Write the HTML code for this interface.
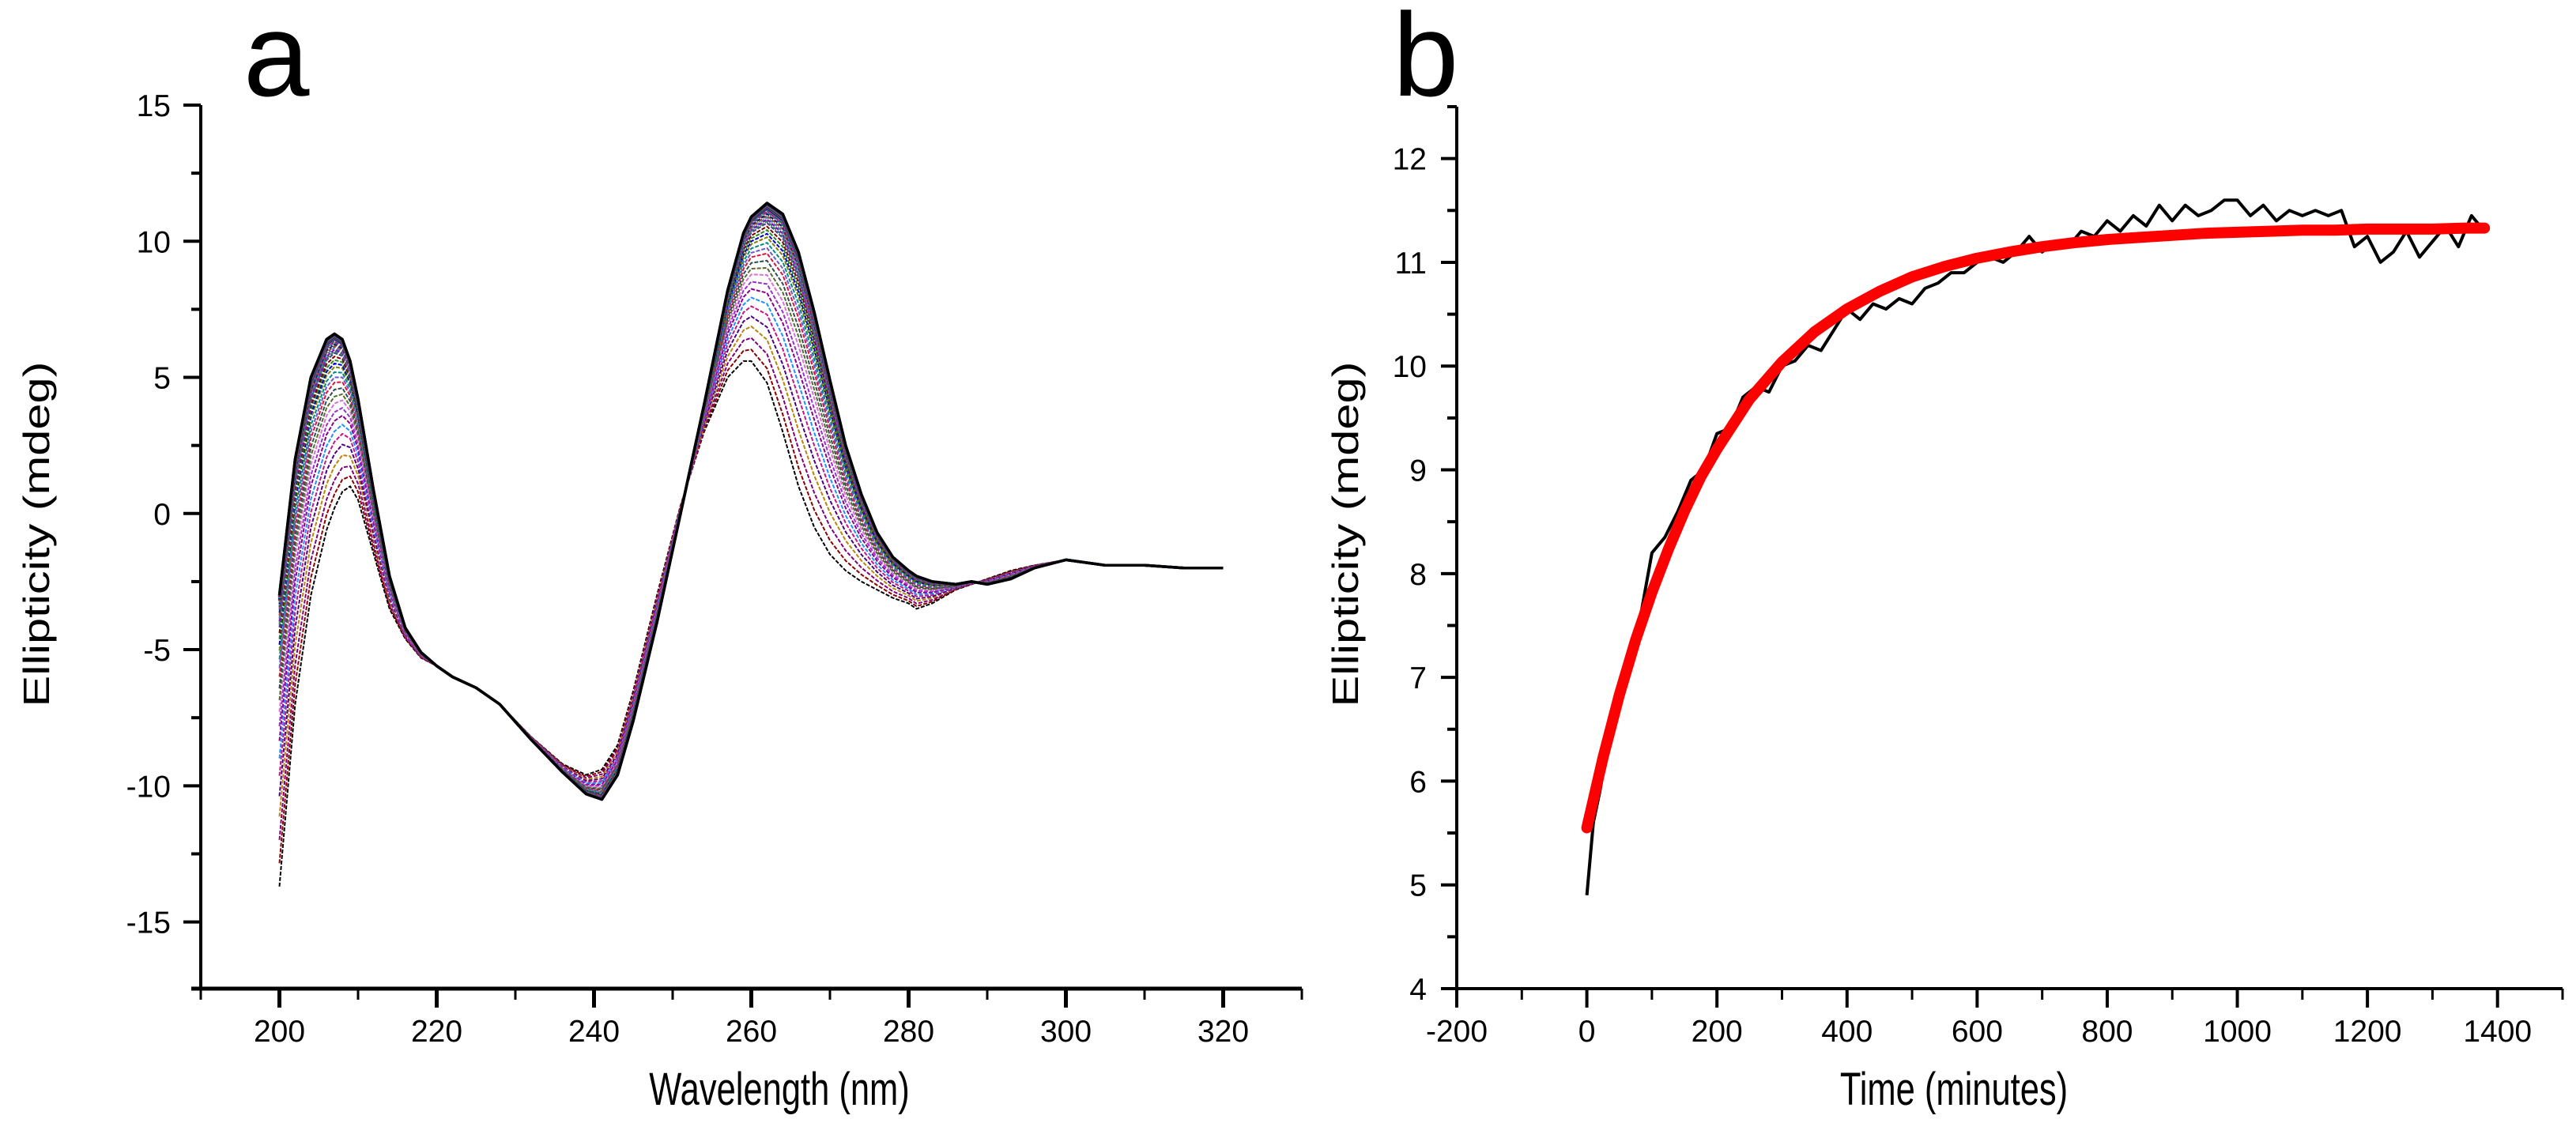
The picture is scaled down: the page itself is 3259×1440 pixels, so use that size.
<!DOCTYPE html>
<html><head><meta charset="utf-8">
<style>
html,body{margin:0;padding:0;background:#fff;}
svg{display:block;font-family:"Liberation Sans",sans-serif;}
</style></head>
<body>
<svg id="fig" width="3259" height="1440" viewBox="0 0 3259 1440" xmlns="http://www.w3.org/2000/svg">
<rect width="3259" height="1440" fill="#fff"/>
<g id="pa"></g>
<g id="pb"></g>
</svg>
<script>
// ---------- Panel a data ----------
const wavelengths = [200,202,204,206,207,208,209,210,212,214,216,218,220,222,225,228,232,236,239,241,243,245,248,251,254,257,259,260,262,264,266,268,270,272,274,276,278,280,281,283,286,288,290,293,296,300,305,310,315,320];
const spectrumFinal = [-3,2,5,6.4,6.6,6.4,5.6,4.2,0.8,-2.3,-4.2,-5.1,-5.6,-6,-6.4,-7,-8.3,-9.5,-10.3,-10.5,-9.6,-7.6,-4,0,4,8.2,10.3,10.9,11.4,11,9.6,7.4,4.9,2.5,0.7,-0.7,-1.6,-2.1,-2.3,-2.5,-2.6,-2.5,-2.6,-2.4,-2,-1.7,-1.9,-1.9,-2,-2];
const spectrumInitial = [-13.7,-7,-3,-0.6,0.2,0.8,1,0.5,-1.5,-3.5,-4.6,-5.3,-5.6,-6,-6.4,-7,-8.2,-9.2,-9.6,-9.4,-8.5,-6.5,-3,0.3,3,5,5.6,5.6,4.8,3,1,-0.5,-1.5,-2.1,-2.5,-2.8,-3.1,-3.3,-3.5,-3.3,-2.8,-2.6,-2.4,-2.1,-1.9,-1.7,-1.9,-1.9,-2,-2];
const scanProgress = [0,0.08,0.16,0.24,0.31,0.38,0.44,0.5,0.55,0.6,0.64,0.68,0.72,0.75,0.78,0.81,0.83,0.85,0.87,0.89,0.9,0.91,0.92,0.93,0.94,0.95,0.955,0.96,0.965,0.97,0.975,0.98,0.985,0.99,0.993,0.996,1.0,1.0];
const scanColors = ["#000000","#8b0000","#800080","#b8860b","#4b0082","#c71585","#1e90ff","#8b008b","#9932cc","#da70d6","#556b2f","#2f4f4f","#dc143c","#6a5acd","#008b8b","#808000","#0000cd","#228b22","#800000","#483d8b","#2e8b57","#9400d3","#4682b4","#a0522d","#191970","#008080","#ff1493","#006400","#7b68ee","#000080","#3cb371","#8b4513","#1c1c8c","#20b2aa","#b22222","#2f2f6f","#336699","#000000"];
const aXTicks = [200,220,240,260,280,300,320];
const aYTicks = [15,10,5,0,-5,-10,-15];

// ---------- Panel b data ----------
const times = [0,10,20,40,60,80,100,120,140,160,180,200,220,240,260,280,300,320,340,360,380,400,420,440,460,480,500,520,540,560,580,600,620,640,660,680,700,720,740,760,780,800,820,840,860,880,900,920,940,960,980,1000,1020,1040,1060,1080,1100,1120,1140,1160,1180,1200,1220,1240,1260,1280,1300,1320,1340,1360,1380];
const ellipticity = [4.9,5.6,5.9,6.6,7.1,7.5,8.2,8.35,8.6,8.9,9.0,9.35,9.4,9.7,9.8,9.75,10.0,10.05,10.2,10.15,10.35,10.55,10.45,10.6,10.55,10.65,10.6,10.75,10.8,10.9,10.9,11.0,11.05,11.0,11.1,11.25,11.1,11.2,11.15,11.3,11.25,11.4,11.3,11.45,11.35,11.55,11.4,11.55,11.45,11.5,11.6,11.6,11.45,11.55,11.4,11.5,11.45,11.5,11.45,11.5,11.15,11.25,11.0,11.1,11.3,11.05,11.2,11.35,11.15,11.45,11.3];
const fitTimes = [0,25,50,75,100,125,150,175,200,250,300,350,400,450,500,550,600,650,700,750,800,850,900,950,1000,1050,1100,1150,1200,1250,1300,1350,1380];
const fitValues = [5.55,6.23,6.83,7.36,7.82,8.23,8.6,8.93,9.2,9.68,10.04,10.33,10.55,10.72,10.86,10.96,11.04,11.1,11.15,11.19,11.22,11.24,11.26,11.28,11.29,11.3,11.31,11.31,11.32,11.32,11.32,11.33,11.33];
const bXTicks = [-200,0,200,400,600,800,1000,1200,1400];
const bYTicks = [4,5,6,7,8,9,10,11,12];

const NS = "http://www.w3.org/2000/svg";
function mk(parent, tag, attrs, text){
  const e = document.createElementNS(NS, tag);
  for (const k in attrs) e.setAttribute(k, attrs[k]);
  if (text !== undefined) e.textContent = text;
  parent.appendChild(e);
  return e;
}

// ---------- Panel a ----------
(function(){
  const g = document.getElementById('pa');
  const L=254, R=1647, T=133, B=1251;
  const xmin=190, xmax=330, ymin=-17.45, ymax=15;
  const sx = v => L + (v-xmin)/(xmax-xmin)*(R-L);
  const sy = v => B - (v-ymin)/(ymax-ymin)*(B-T);

  const lbl = mk(g,'text',{x:308,y:121,'font-size':150});
  lbl.textContent='a';
  
  

  const cg = mk(g,'g',{});
  
  
  scanProgress.forEach((f,i)=>{
    const pts = wavelengths.map((w,j)=>{
      const v = spectrumInitial[j] + f*(spectrumFinal[j]-spectrumInitial[j]);
      return sx(w).toFixed(1)+','+sy(v).toFixed(1);
    }).join(' ');
    const p = mk(cg,'polyline',{points:pts,fill:'none',stroke:scanColors[i % scanColors.length],'stroke-width':(i>30?3.5:2),'stroke-linejoin':'round','stroke-dasharray':(i<28?'5 2':'none')});
    
    
  });

  const ax = mk(g,'g',{stroke:'#000'});
  
  
  mk(ax,'line',{x1:L,y1:T,x2:L,y2:B+2,'stroke-width':4});
  mk(ax,'line',{x1:L-12,y1:B,x2:R,y2:B,'stroke-width':5});
  for (let v=-15; v<=15; v+=2.5){
    const major = aYTicks.includes(v);
    mk(ax,'line',{x1:L-(major?22:12),y1:sy(v),x2:L,y2:sy(v),'stroke-width':4});
  }
  for (let v=190; v<=330; v+=10){
    const major = aXTicks.includes(v);
    mk(ax,'line',{x1:sx(v),y1:B,x2:sx(v),y2:B+(major?24:14),'stroke-width':(major?5:3)});
  }
  aYTicks.forEach(v=>{
    const t = mk(g,'text',{x:L-38,y:sy(v)+14,'font-size':39,'text-anchor':'end'},String(v));
    
    
  });
  aXTicks.forEach(v=>{
    const t = mk(g,'text',{x:sx(v),y:1318,'font-size':39,'text-anchor':'middle'},String(v));
    
    
  });
  const xt = mk(g,'text',{x:986,y:1398,'font-size':58,'text-anchor':'middle',transform:'translate(986,0) scale(0.75,1) translate(-986,0)'},'Wavelength (nm)');
  
  
  const yt = mk(g,'text',{x:0,y:0,'font-size':46,'text-anchor':'middle',textLength:437,lengthAdjust:'spacingAndGlyphs',transform:'translate(62,676) rotate(-90)'},'Ellipticity (mdeg)');
  
  
})();

// ---------- Panel b ----------
(function(){
  const g = document.getElementById('pb');
  const L=1843, R=3242, T=135, B=1251;
  const xmin=-200, xmax=1500, ymin=4, ymax=12.5;
  const sx = v => L + (v-xmin)/(xmax-xmin)*(R-L);
  const sy = v => B - (v-ymin)/(ymax-ymin)*(B-T);

  const lbl = mk(g,'text',{x:1762,y:121,'font-size':150});
  lbl.textContent='b';
  
  

  const d = mk(g,'polyline',{points:times.map((t,i)=>sx(t).toFixed(1)+','+sy(ellipticity[i]).toFixed(1)).join(' '),fill:'none',stroke:'#000','stroke-width':4,'stroke-linejoin':'round'});
  
  
  const f = mk(g,'polyline',{points:fitTimes.map((t,i)=>sx(t).toFixed(1)+','+sy(fitValues[i]).toFixed(1)).join(' '),fill:'none',stroke:'#f00','stroke-width':14,'stroke-linejoin':'round','stroke-linecap':'round'});
  
  

  const ax = mk(g,'g',{stroke:'#000'});
  
  
  mk(ax,'line',{x1:L,y1:T,x2:L,y2:B+2,'stroke-width':4});
  mk(ax,'line',{x1:L-2,y1:B,x2:R,y2:B,'stroke-width':4});
  for (let v=4; v<=12.5; v+=0.5){
    const major = Number.isInteger(v);
    mk(ax,'line',{x1:L-(major?20:12),y1:sy(v),x2:L,y2:sy(v),'stroke-width':4});
  }
  for (let v=-200; v<=1500; v+=100){
    const major = bXTicks.includes(v);
    mk(ax,'line',{x1:sx(v),y1:B,x2:sx(v),y2:B+(major?24:14),'stroke-width':(major?4:3)});
  }
  bYTicks.forEach(v=>{
    const t = mk(g,'text',{x:L-38,y:sy(v)+14,'font-size':39,'text-anchor':'end'},String(v));
    
    
  });
  bXTicks.forEach(v=>{
    const t = mk(g,'text',{x:sx(v),y:1318,'font-size':39,'text-anchor':'middle'},String(v));
    
    
  });
  const xt = mk(g,'text',{x:2472,y:1398,'font-size':58,'text-anchor':'middle',transform:'translate(2472,0) scale(0.75,1) translate(-2472,0)'},'Time (minutes)');
  
  
  const yt = mk(g,'text',{x:0,y:0,'font-size':46,'text-anchor':'middle',textLength:437,lengthAdjust:'spacingAndGlyphs',transform:'translate(1718,676) rotate(-90)'},'Ellipticity (mdeg)');
  
  
})();
</script>
</body></html>
